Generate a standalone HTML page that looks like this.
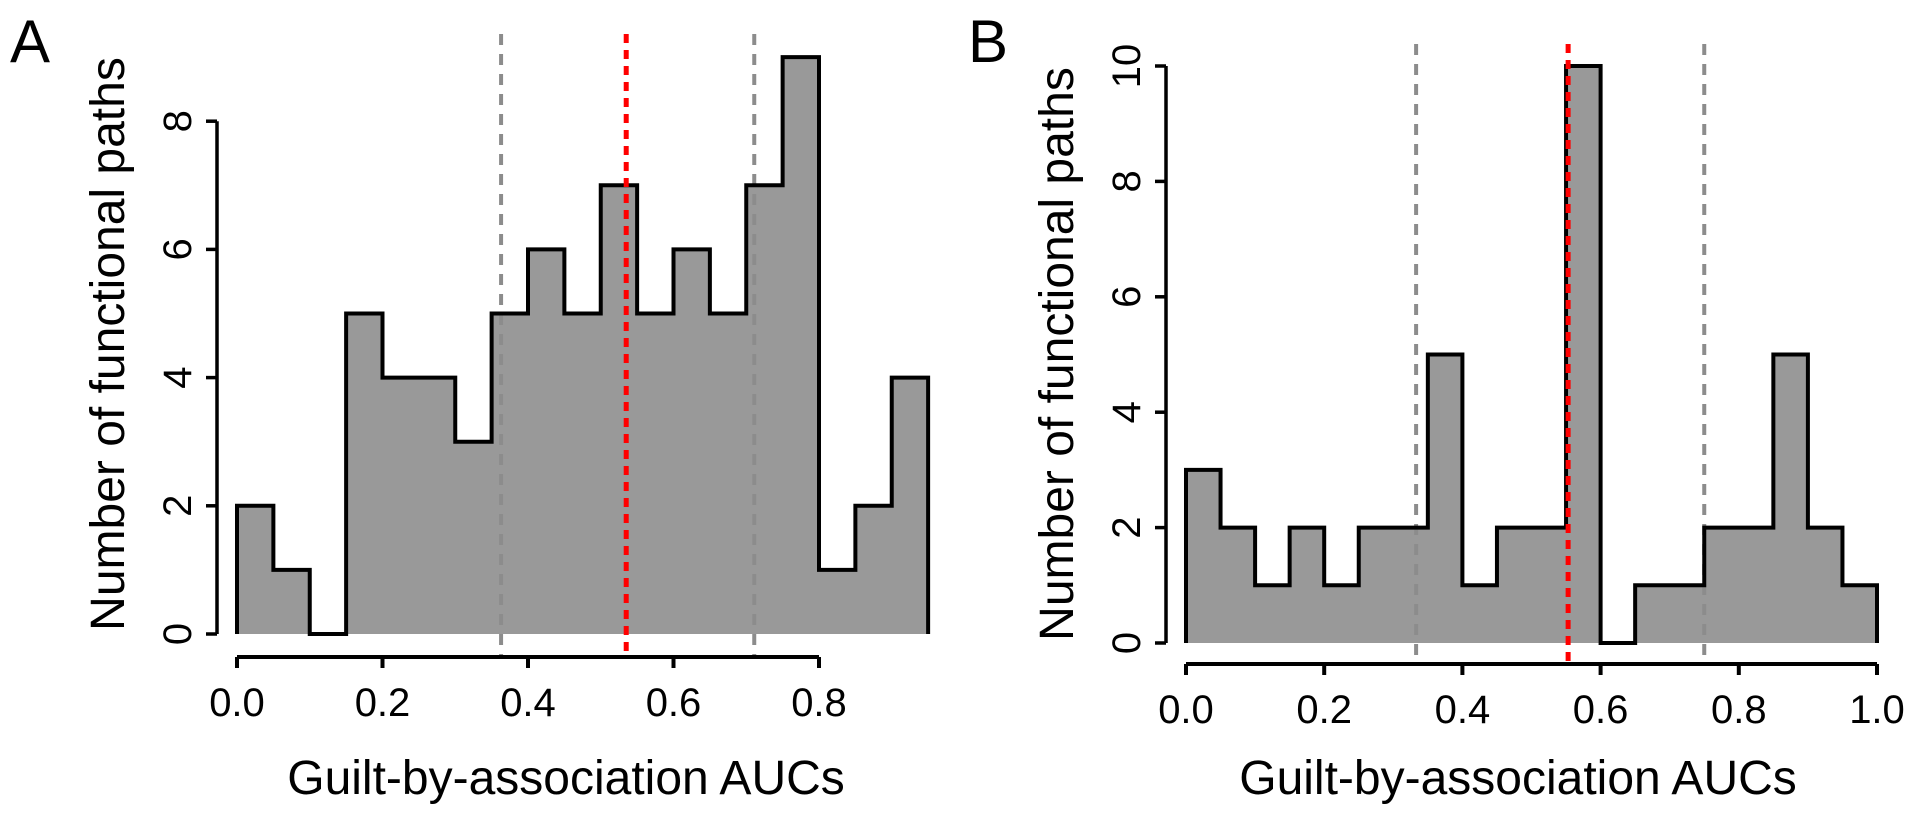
<!DOCTYPE html>
<html><head><meta charset="utf-8"><style>
html,body{margin:0;padding:0;background:#fff;}
svg{display:block;font-family:"Liberation Sans",Arial,sans-serif;}
</style></head><body>
<svg id="chart" width="1910" height="817" viewBox="0 0 1910 817">
<text x="10" y="62" font-size="60">A</text>
<text x="968" y="62" font-size="60">B</text>
</svg>
<script>
// Panel A data
const aCounts = [2,1,0,5,4,4,3,5,6,5,7,5,6,5,7,9,1,2,4];
const aXTicks = [0.0,0.2,0.4,0.6,0.8];
const aXTickLabels = ["0.0","0.2","0.4","0.6","0.8"];
const aYTicks = [0,2,4,6,8];
const aGreyLines = [0.363,0.711];
const aRedLine = [0.535];
// Panel B data
const bCounts = [3,2,1,2,1,2,2,5,1,2,2,10,0,1,1,2,2,5,2,1];
const bXTicks = [0.0,0.2,0.4,0.6,0.8,1.0];
const bXTickLabels = ["0.0","0.2","0.4","0.6","0.8","1.0"];
const bYTicks = [0,2,4,6,8,10];
const bGreyLines = [0.333,0.75];
const bRedLine = [0.553];
const binWidth = 0.05;

const NS = "http://www.w3.org/2000/svg";
const svg = document.getElementById('chart');
function mk(tag, attrs, parent){
  const e = document.createElementNS(NS, tag);
  for (const k in attrs) e.setAttribute(k, attrs[k]);
  (parent||svg).appendChild(e);
  return e;
}

function panel(cfg){
  const g = mk('g', {});
  
  
  const X = v => cfg.x0 + v * cfg.xs;
  const Y = v => cfg.y0 - v * cfg.ys;
  let d = 'M' + X(0) + ' ' + Y(0);
  cfg.counts.forEach((c,i)=>{
    d += ' L' + X(i*binWidth) + ' ' + Y(c) + ' L' + X((i+1)*binWidth) + ' ' + Y(c);
  });
  d += ' L' + X(cfg.counts.length*binWidth) + ' ' + Y(0);
  const fill = mk('path', {d: d + ' Z', fill:'#999999', stroke:'none'}, g);
  
  
  cfg.counts.forEach((c,i)=>{
    const r = mk('rect', {x:X(i*binWidth), y:Y(c), width:binWidth*cfg.xs, height:c*cfg.ys, fill:'transparent'}, g);
    
    
  });
  cfg.grey.forEach(v=>{
    const l = mk('line', {x1:X(v), x2:X(v), y1:cfg.lineTop, y2:cfg.axisY+2, stroke:'#8c8c8c', 'stroke-width':4, 'stroke-dasharray':'11 9'}, g);
    
    
  });
  const outline = mk('path', {d: d, fill:'none', stroke:'#000', 'stroke-width':4, 'stroke-linejoin':'miter'}, g);
  
  
  cfg.red.forEach(v=>{
    const l = mk('line', {x1:X(v), x2:X(v), y1:cfg.lineTop, y2:cfg.axisY+2, stroke:'#ff0000', 'stroke-width':5, 'stroke-dasharray':'9 7'}, g);
    
    
  });
  const xa = mk('line', {x1:X(cfg.xTicks[0]), x2:X(cfg.xTicks[cfg.xTicks.length-1]), y1:cfg.axisY, y2:cfg.axisY, stroke:'#000', 'stroke-width':4}, g);
  
  
  cfg.xTicks.forEach((t,i)=>{
    const tk = mk('line', {x1:X(t), x2:X(t), y1:cfg.axisY, y2:cfg.axisY+11, stroke:'#000', 'stroke-width':4}, g);
    
    
    const tl = mk('text', {x:X(t), y:cfg.axisY+59, 'font-size':40, 'text-anchor':'middle'}, g);
    tl.textContent = cfg.xLabels[i];
    
    
  });
  const ya = mk('line', {x1:cfg.yAxisX, x2:cfg.yAxisX, y1:Y(cfg.yTicks[0]), y2:Y(cfg.yTicks[cfg.yTicks.length-1]), stroke:'#000', 'stroke-width':3.5}, g);
  
  
  cfg.yTicks.forEach(t=>{
    const tk = mk('line', {x1:cfg.yAxisX-11, x2:cfg.yAxisX, y1:Y(t), y2:Y(t), stroke:'#000', 'stroke-width':3.5}, g);
    
    
    const tx = cfg.yAxisX - 26, ty = Y(t);
    const tl = mk('text', {x:tx, y:ty, 'font-size':40, 'text-anchor':'middle', transform:'rotate(-90 '+tx+' '+ty+')'}, g);
    tl.textContent = String(t);
    
    
  });
  const xt = mk('text', {x:cfg.xTitleX, y:794, 'font-size':48, 'text-anchor':'middle'}, g);
  xt.textContent = 'Guilt-by-association AUCs';
  
  
  const yx = cfg.yTitleX, yy = cfg.yTitleY;
  const yt = mk('text', {x:yx, y:yy, 'font-size':48, 'text-anchor':'middle', transform:'rotate(-90 '+yx+' '+yy+')'}, g);
  yt.textContent = 'Number of functional paths';
  
  
}

panel({name:'panel-a', counts:aCounts, xTicks:aXTicks, xLabels:aXTickLabels, yTicks:aYTicks,
  grey:aGreyLines, red:aRedLine, x0:237, xs:727.5, y0:634, ys:64.1, axisY:657, yAxisX:217,
  lineTop:34, xTitleX:566, yTitleX:124, yTitleY:344});
panel({name:'panel-b', counts:bCounts, xTicks:bXTicks, xLabels:bXTickLabels, yTicks:bYTicks,
  grey:bGreyLines, red:bRedLine, x0:1186, xs:691, y0:643, ys:57.7, axisY:664, yAxisX:1166,
  lineTop:44, xTitleX:1518, yTitleX:1073, yTitleY:354});
</script>
</body></html>
